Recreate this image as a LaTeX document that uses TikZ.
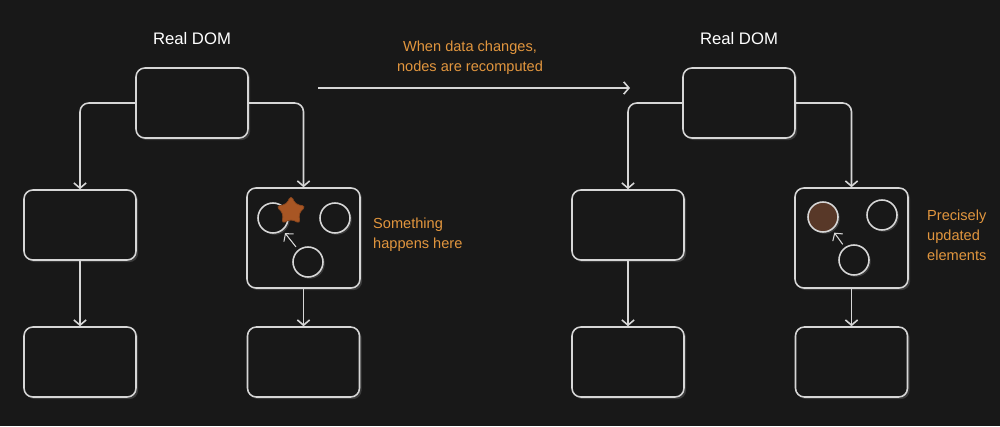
\documentclass[tikz,border=0pt]{standalone}
\usepackage{fontspec}
\setmainfont{Liberation Sans}
\usetikzlibrary{arrows.meta,shapes,shadows}

\begin{document}
\begin{tikzpicture}[x=0.02cm,y=-0.02cm]

		\definecolor{bgdark}{RGB}{24,24,24}
		\definecolor{linegray}{RGB}{214,214,214}
		\definecolor{notecolor}{RGB}{226,150,62}
		\definecolor{starfill}{RGB}{168,86,36}
		\definecolor{donefill}{RGB}{88,56,40}
		\definecolor{shade}{RGB}{58,58,58}

		\fill[bgdark] (0,0) rectangle (1000,426);
		\useasboundingbox (0,0) rectangle (1000,426);

		\tikzstyle{edge} = [draw=linegray, line width=0.9pt, rounded corners=5pt]
		\tikzstyle{arrow} = [edge, -{Straight Barb[length=3pt,width=7pt]}]

		\tikzset{box/.style = {shape=rectangle, rounded corners=5pt, draw=linegray, line width=0.9pt, fill=bgdark, minimum width=2.24cm, minimum height=1.4cm, drop shadow={fill=shade, opacity=1, shadow xshift=1.2pt, shadow yshift=-1.2pt}}}
		\tikzset{bigbox/.style = {box, minimum width=2.26cm, minimum height=2cm}}
		\tikzset{elem/.style = {shape=circle, draw=linegray, line width=0.9pt, fill=bgdark, minimum size=0.6cm, drop shadow={fill=shade, opacity=1, shadow xshift=1pt, shadow yshift=-1pt}}}
		\tikzset{title/.style = {text=white, font=\fontsize{9.5}{11}\selectfont}}
		\tikzset{note/.style = {text=notecolor, font=\fontsize{8.3}{11.3}\selectfont, align=left, anchor=west}}

		% left tree
		\node[title] (dom1) at (192,39) {Real DOM};
		\node[box] (top1) at (192,103) {};
		\node[box] (left1) at (80,225) {};
		\node[bigbox] (right1) at (303.5,238) {};
		\node[box] (leftleaf1) at (80,362) {};
		\node[box] (rightleaf1) at (303.5,362) {};

		\node[elem] (a1) at (273,218) {};
		\node[elem] (b1) at (335,218) {};
		\node[elem] (c1) at (308,262) {};
		\node[shape=star, star points=5, star point ratio=1.9, fill=starfill, draw=starfill!80!black, line width=0.4pt, rounded corners=2pt, minimum size=0.62cm, inner sep=0pt] (s1) at (291,211) {};

		\node[note] (n1) at (367,235) {Something\\happens here};

		\draw[arrow] (top1.west) -| (left1.north);
		\draw[arrow] (top1.east) -| (right1.north);
		\draw[arrow] (left1) to (leftleaf1);
		\draw[arrow] (right1) to (rightleaf1);
		\draw[arrow, rounded corners=0pt, line width=0.6pt, shorten >=2pt, shorten <=2pt] (c1) to (a1);

		% change arrow
		\coordinate (from) at (318,88);
		\coordinate (to) at (630,88);
		\draw[arrow] (from) to (to);
		\node[text=notecolor, font=\fontsize{8.3}{11.3}\selectfont, align=center] (change) at (470,58) {When data changes,\\nodes are recomputed};

		% right tree
		\node[title] (dom2) at (739,39) {Real DOM};
		\node[box] (top2) at (739,103) {};
		\node[box] (left2) at (628,225) {};
		\node[bigbox] (right2) at (851.5,238) {};
		\node[box] (leftleaf2) at (628,362) {};
		\node[box] (rightleaf2) at (851.5,362) {};

		\node[elem, fill=donefill] (a2) at (823,217) {};
		\node[elem] (b2) at (882,215) {};
		\node[elem] (c2) at (854,260) {};

		\node[note] (n2) at (921,235) {Precisely\\updated\\elements};

		\draw[arrow] (top2.west) -| (left2.north);
		\draw[arrow] (top2.east) -| (right2.north);
		\draw[arrow] (left2) to (leftleaf2);
		\draw[arrow] (right2) to (rightleaf2);
		\draw[arrow, rounded corners=0pt, line width=0.6pt, shorten >=2pt, shorten <=2pt] (c2) to (a2);

\end{tikzpicture}
\end{document}
